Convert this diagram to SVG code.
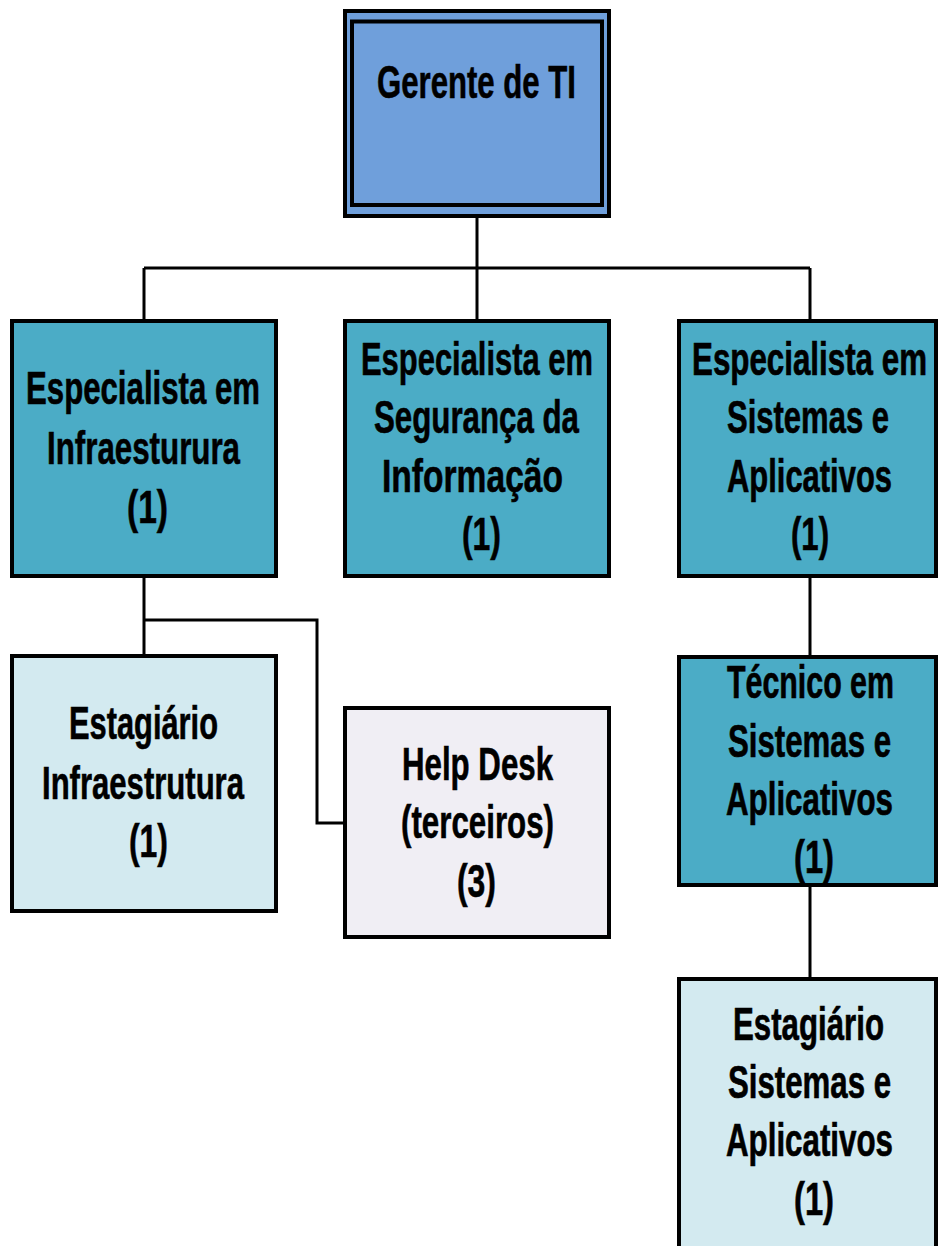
<svg xmlns="http://www.w3.org/2000/svg" width="938" height="1246" viewBox="0 0 938 1246">
<style>
.box{stroke:#000;stroke-width:4}
.top{fill:#6f9fdb}
.teal{fill:#4bacc6}
.light{fill:#d3eaf0}
.lav{fill:#f0eef4}
.conn{fill:none;stroke:#000;stroke-width:3}
text{font-family:"Liberation Sans Narrow","Liberation Sans",Arial,sans-serif;font-weight:bold;font-size:46px;fill:#000;stroke:#000;stroke-width:0.6}
text.t{font-size:34px;stroke-width:0.5}
text.s{font-size:28px;stroke-width:0.45}
</style>
<rect width="938" height="1246" fill="#fff"/>
<g id="connectors">
<path class="conn" d="M477 218V268M144 268H810M144 268V320M477 268V320M810 268V320"/>
<path class="conn" d="M144 578V655M144 620H317V823H343"/>
<path class="conn" d="M810 578V655M810 887V977"/>
</g>
<g id="gerente">
<rect class="box top" x="345" y="11" width="264" height="205"/>
<rect class="box top" x="352" y="21.5" width="250" height="183.5"/>
<text x="377" y="98" textLength="199" lengthAdjust="spacingAndGlyphs">Gerente de TI</text>
</g>
<g id="esp-infra">
<rect class="box teal" x="12" y="321" width="264" height="255"/>
<text x="26" y="404" textLength="234" lengthAdjust="spacingAndGlyphs">Especialista em</text>
<text x="47" y="464" textLength="193" lengthAdjust="spacingAndGlyphs">Infraesturura</text>
<text x="127" y="523" textLength="41" lengthAdjust="spacingAndGlyphs">(1)</text>
</g>
<g id="esp-seg">
<rect class="box teal" x="345" y="321" width="264" height="255"/>
<text x="361" y="375" textLength="232" lengthAdjust="spacingAndGlyphs">Especialista em</text>
<text x="374" y="433" textLength="205" lengthAdjust="spacingAndGlyphs">Segurança da</text>
<text x="382" y="492" textLength="181" lengthAdjust="spacingAndGlyphs">Informação</text>
<text x="462" y="550" textLength="39" lengthAdjust="spacingAndGlyphs">(1)</text>
</g>
<g id="esp-sist">
<rect class="box teal" x="679" y="321" width="257" height="255"/>
<text class="s" transform="translate(692 375) scale(1 1.643)" textLength="235" lengthAdjust="spacingAndGlyphs">Especialista em</text>
<text class="t" transform="translate(727 433) scale(1 1.35)" textLength="162" lengthAdjust="spacingAndGlyphs">Sistemas e</text>
<text class="t" transform="translate(727 492) scale(1 1.35)" textLength="165" lengthAdjust="spacingAndGlyphs">Aplicativos</text>
<text class="t" transform="translate(791 550) scale(1 1.35)" textLength="38" lengthAdjust="spacingAndGlyphs">(1)</text>
</g>
<g id="estag-infra">
<rect class="box light" x="12" y="656" width="264" height="255"/>
<text x="69" y="739" textLength="149" lengthAdjust="spacingAndGlyphs">Estagiário</text>
<text x="42" y="799" textLength="202" lengthAdjust="spacingAndGlyphs">Infraestrutura</text>
<text x="129" y="857" textLength="39" lengthAdjust="spacingAndGlyphs">(1)</text>
</g>
<g id="helpdesk">
<rect class="box lav" x="345" y="708" width="264" height="229"/>
<text x="402" y="780" textLength="151" lengthAdjust="spacingAndGlyphs">Help Desk</text>
<text x="401" y="838" textLength="153" lengthAdjust="spacingAndGlyphs">(terceiros)</text>
<text x="457" y="897" textLength="39" lengthAdjust="spacingAndGlyphs">(3)</text>
</g>
<g id="tecnico">
<rect class="box teal" x="679" y="657" width="257" height="228"/>
<text class="t" transform="translate(727 698) scale(1 1.35)" textLength="167" lengthAdjust="spacingAndGlyphs">Técnico em</text>
<text class="t" transform="translate(728 757) scale(1 1.35)" textLength="163" lengthAdjust="spacingAndGlyphs">Sistemas e</text>
<text class="t" transform="translate(726 815) scale(1 1.35)" textLength="167" lengthAdjust="spacingAndGlyphs">Aplicativos</text>
<text class="t" transform="translate(794 873) scale(1 1.35)" textLength="40" lengthAdjust="spacingAndGlyphs">(1)</text>
</g>
<g id="estag-sist">
<rect class="box light" x="679" y="979" width="257" height="300"/>
<text class="t" transform="translate(733 1040) scale(1 1.35)" textLength="151" lengthAdjust="spacingAndGlyphs">Estagiário</text>
<text class="t" transform="translate(728 1098) scale(1 1.35)" textLength="163" lengthAdjust="spacingAndGlyphs">Sistemas e</text>
<text class="t" transform="translate(726 1156) scale(1 1.35)" textLength="167" lengthAdjust="spacingAndGlyphs">Aplicativos</text>
<text class="t" transform="translate(794 1215) scale(1 1.35)" textLength="40" lengthAdjust="spacingAndGlyphs">(1)</text>
</g>
</svg>
